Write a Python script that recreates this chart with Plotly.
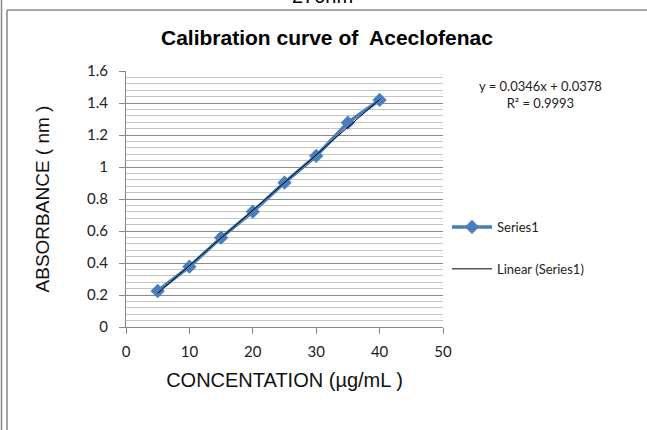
import plotly.graph_objects as go

conc = [5, 10, 15, 20, 25, 30, 35, 40]
absorb = [0.225, 0.377, 0.558, 0.721, 0.902, 1.069, 1.277, 1.419]
slope = 0.0346
intercept = 0.0378
fit_x = [5, 40]
fit_y = [slope * v + intercept for v in fit_x]
x_ticks = [0, 10, 20, 30, 40, 50]
y_ticks = [0, 0.2, 0.4, 0.6, 0.8, 1, 1.2, 1.4, 1.6]

W, H = 647, 430
L, R, T, B = 126, 204, 71, 103
pw, ph = W - L - R, H - T - B

def px(xp):
    return (xp - L) / pw

def py(yp):
    return (H - B - yp) / ph

tick_font = dict(family="Lato, Open Sans, sans-serif", size=15, color="#222222")

fig = go.Figure()
fig.add_trace(go.Scatter(
    x=conc, y=absorb, mode="lines+markers", name="Series1",
    line=dict(color="#4A7EBB", width=3.5),
    marker=dict(symbol="diamond", size=11, color="#4A7EBB"),
    legendgroup="a",
))
fig.add_trace(go.Scatter(
    x=fit_x, y=fit_y, mode="lines", name="Linear (Series1)",
    line=dict(color="#000000", width=1),
    legendgroup="b",
))

fig.update_layout(
    width=W, height=H,
    margin=dict(l=L, r=R, t=T, b=B, autoexpand=False),
    paper_bgcolor="white", plot_bgcolor="white",
    showlegend=True,
    legend=dict(x=px(447), y=py(248), xanchor="left", yanchor="middle",
                font=dict(family="Lato, Open Sans, sans-serif", size=13, color="#222222"),
                tracegroupgap=22, bgcolor="rgba(0,0,0,0)", itemwidth=40),
    xaxis=dict(range=[0, 50], tickvals=x_ticks, showgrid=False, zeroline=False,
               showline=True, linecolor="#868686", linewidth=1,
               ticks="outside", ticklen=6, tickcolor="#868686",
               tickfont=tick_font, ticklabelstandoff=5,
               title=dict(text="CONCENTATION (µg/mL )", standoff=13,
                          font=dict(family="Liberation Sans, Arial, sans-serif", size=20, color="#111111"))),
    yaxis=dict(range=[0, 1.6], tickvals=y_ticks, ticktext=["0", "0.2", "0.4", "0.6", "0.8", "1", "1.2", "1.4", "1.6"],
               showgrid=True, gridcolor="#8a8a8a", gridwidth=1, zeroline=False,
               showline=True, linecolor="#868686", linewidth=1,
               ticks="outside", ticklen=6, tickcolor="#868686",
               tickfont=tick_font, ticklabelstandoff=8,
               minor=dict(dtick=0.04, showgrid=True, gridcolor="#c4c4c4", gridwidth=1),
               title=dict(text="ABSORBANCE ( nm )", standoff=32,
                          font=dict(family="Liberation Sans, Arial, sans-serif", size=19, color="#111111"))),
)

fig.add_annotation(text="<b>Calibration curve of  Aceclofenac</b>", x=px(327), y=py(37),
                   xref="paper", yref="paper", showarrow=False, xanchor="center", yanchor="middle",
                   font=dict(family="Liberation Sans, Arial, sans-serif", size=21, color="#000000"))
fig.add_annotation(text="270nm", x=px(322), y=py(-4),
                   xref="paper", yref="paper", showarrow=False, xanchor="center", yanchor="middle",
                   font=dict(family="Liberation Sans, Arial, sans-serif", size=20, color="#000000"))
fig.add_annotation(text="y = 0.0346x + 0.0378<br>R² = 0.9993", x=px(540), y=py(94),
                   xref="paper", yref="paper", showarrow=False, align="center",
                   xanchor="center", yanchor="middle",
                   font=dict(family="Lato, Open Sans, sans-serif", size=13, color="#222222"))

# outer chart frame
fig.add_shape(type="line", xref="paper", yref="paper", x0=px(7), x1=px(7), y0=py(10), y1=py(432),
              line=dict(color="#888888", width=1.5))
fig.add_shape(type="line", xref="paper", yref="paper", x0=px(7), x1=px(650), y0=py(10), y1=py(10),
              line=dict(color="#888888", width=1.5))
fig.add_shape(type="line", xref="paper", yref="paper", x0=px(1.5), x1=px(1.5), y0=py(0), y1=py(432),
              line=dict(color="#888888", width=1.5))

fig.write_html("out.html", config={"displayModeBar": False},
               post_script="document.body.style.margin='0';document.body.style.overflow='hidden';")
